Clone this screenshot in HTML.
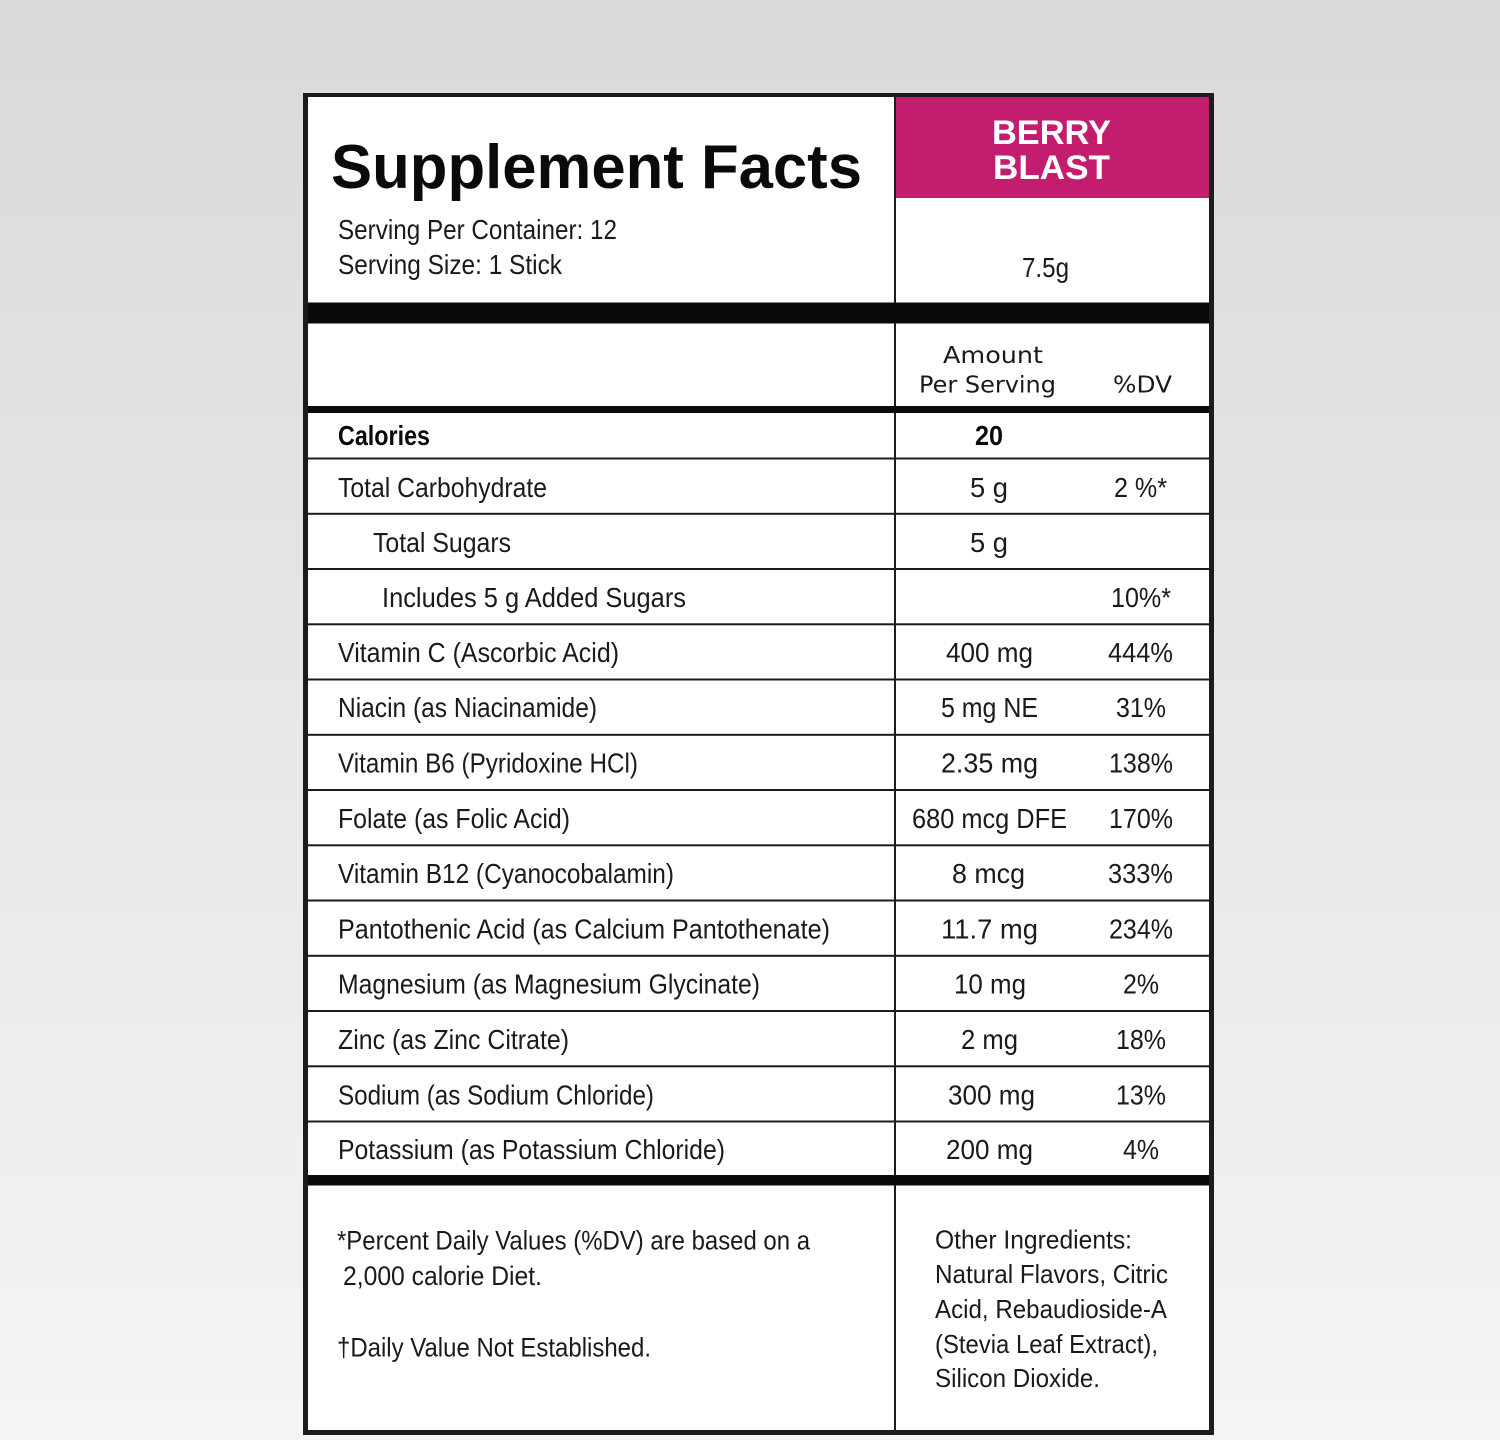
<!DOCTYPE html>
<html>
<head>
<meta charset="utf-8">
<style>
  html,body{margin:0;padding:0;}
  body{width:1500px;height:1440px;overflow:hidden;background:linear-gradient(to bottom,#d9d9db 0%,#e6e6e8 45%,#f4f4f4 100%);}
  svg{display:block;}
  .t{font-family:"Liberation Sans Narrow","Liberation Sans",sans-serif;fill:#1a1a1a;}
  .h{font-family:"DejaVu Sans","Liberation Sans",sans-serif;fill:#1a1a1a;}
  .b{font-family:"Liberation Sans",sans-serif;font-weight:bold;}
</style>
</head>
<body>
<svg width="1500" height="1440" viewBox="0 0 1500 1440" xmlns="http://www.w3.org/2000/svg">
  <!-- white panel -->
  <rect x="303" y="93" width="911" height="1342" fill="#ffffff"/>
  <!-- magenta header -->
  <rect x="896" y="97" width="313" height="101" fill="#c21d6e"/>
  <!-- outer border -->
  <rect x="303" y="93" width="911" height="4" fill="#1c1c1c"/>
  <rect x="303" y="1430" width="911" height="5" fill="#1c1c1c"/>
  <rect x="303" y="93" width="5" height="1342" fill="#1c1c1c"/>
  <rect x="1209" y="93" width="5" height="1342" fill="#1c1c1c"/>
  <!-- column divider -->
  <rect x="894" y="97" width="2" height="1333" fill="#1c1c1c"/>
  <!-- thick bands -->
  <rect x="308" y="302.5" width="901" height="21" fill="#0a0a0a"/>
  <rect x="308" y="406" width="901" height="7" fill="#0a0a0a"/>
  <rect x="308" y="1175" width="901" height="10.5" fill="#0a0a0a"/>
  <!-- row lines -->
  <g fill="#1c1c1c">
    <rect x="308" y="457.5" width="901" height="2"/>
    <rect x="308" y="512.8" width="901" height="2"/>
    <rect x="308" y="568" width="901" height="2"/>
    <rect x="308" y="623.3" width="901" height="2"/>
    <rect x="308" y="678.5" width="901" height="2"/>
    <rect x="308" y="733.8" width="901" height="2"/>
    <rect x="308" y="789" width="901" height="2"/>
    <rect x="308" y="844.3" width="901" height="2"/>
    <rect x="308" y="899.5" width="901" height="2"/>
    <rect x="308" y="954.8" width="901" height="2"/>
    <rect x="308" y="1010" width="901" height="2"/>
    <rect x="308" y="1065.3" width="901" height="2"/>
    <rect x="308" y="1120.5" width="901" height="2"/>
  </g>

  <!-- title area -->
  <text class="b" x="331" y="188" font-size="62" fill="#0a0a0a" textLength="531" lengthAdjust="spacingAndGlyphs">Supplement Facts</text>
  <text class="t" x="338" y="239" font-size="28" textLength="279" lengthAdjust="spacingAndGlyphs">Serving Per Container: 12</text>
  <text class="t" x="338" y="274" font-size="28" textLength="224" lengthAdjust="spacingAndGlyphs">Serving Size: 1 Stick</text>

  <text class="b" x="992" y="144" font-size="34" fill="#ffffff" textLength="119" lengthAdjust="spacingAndGlyphs">BERRY</text>
  <text class="b" x="993" y="179" font-size="34" fill="#ffffff" textLength="117" lengthAdjust="spacingAndGlyphs">BLAST</text>
  <text class="t" x="1022" y="277" font-size="28" textLength="47" lengthAdjust="spacingAndGlyphs">7.5g</text>

  <!-- column header -->
  <text class="h" x="943" y="363" font-size="23" textLength="100" lengthAdjust="spacingAndGlyphs">Amount</text>
  <text class="h" x="919" y="392.5" font-size="23" textLength="137" lengthAdjust="spacingAndGlyphs">Per Serving</text>
  <text class="h" x="1113" y="392.5" font-size="23" textLength="59" lengthAdjust="spacingAndGlyphs">%DV</text>

  <!-- rows: labels -->
  <g class="t" font-size="28">
    <text x="338" y="445" font-weight="bold" fill="#0a0a0a" textLength="92" lengthAdjust="spacingAndGlyphs">Calories</text>
    <text x="338" y="497" textLength="209" lengthAdjust="spacingAndGlyphs">Total Carbohydrate</text>
    <text x="373" y="552" textLength="138" lengthAdjust="spacingAndGlyphs">Total Sugars</text>
    <text x="382" y="607" textLength="304" lengthAdjust="spacingAndGlyphs">Includes 5 g Added Sugars</text>
    <text x="338" y="662" textLength="281" lengthAdjust="spacingAndGlyphs">Vitamin C (Ascorbic Acid)</text>
    <text x="338" y="717" textLength="259" lengthAdjust="spacingAndGlyphs">Niacin (as Niacinamide)</text>
    <text x="338" y="772.5" textLength="300" lengthAdjust="spacingAndGlyphs">Vitamin B6 (Pyridoxine HCl)</text>
    <text x="338" y="828" textLength="232" lengthAdjust="spacingAndGlyphs">Folate (as Folic Acid)</text>
    <text x="338" y="883" textLength="336" lengthAdjust="spacingAndGlyphs">Vitamin B12 (Cyanocobalamin)</text>
    <text x="338" y="938.5" textLength="492" lengthAdjust="spacingAndGlyphs">Pantothenic Acid (as Calcium Pantothenate)</text>
    <text x="338" y="993.5" textLength="422" lengthAdjust="spacingAndGlyphs">Magnesium (as Magnesium Glycinate)</text>
    <text x="338" y="1049" textLength="231" lengthAdjust="spacingAndGlyphs">Zinc (as Zinc Citrate)</text>
    <text x="338" y="1104.5" textLength="316" lengthAdjust="spacingAndGlyphs">Sodium (as Sodium Chloride)</text>
    <text x="338" y="1159" textLength="387" lengthAdjust="spacingAndGlyphs">Potassium (as Potassium Chloride)</text>
  </g>

  <!-- rows: amounts -->
  <g class="t" font-size="28">
    <text x="975" y="445" font-weight="bold" fill="#0a0a0a" textLength="28" lengthAdjust="spacingAndGlyphs">20</text>
    <text x="970" y="497" textLength="38" lengthAdjust="spacingAndGlyphs">5 g</text>
    <text x="970" y="552" textLength="38" lengthAdjust="spacingAndGlyphs">5 g</text>
    <text x="946" y="662" textLength="87" lengthAdjust="spacingAndGlyphs">400 mg</text>
    <text x="941" y="717" textLength="97" lengthAdjust="spacingAndGlyphs">5 mg NE</text>
    <text x="941" y="772.5" textLength="97" lengthAdjust="spacingAndGlyphs">2.35 mg</text>
    <text x="912" y="828" textLength="155" lengthAdjust="spacingAndGlyphs">680 mcg DFE</text>
    <text x="952" y="883" textLength="73" lengthAdjust="spacingAndGlyphs">8 mcg</text>
    <text x="941" y="938.5" textLength="97" lengthAdjust="spacingAndGlyphs">11.7 mg</text>
    <text x="954" y="993.5" textLength="72" lengthAdjust="spacingAndGlyphs">10 mg</text>
    <text x="961" y="1049" textLength="57" lengthAdjust="spacingAndGlyphs">2 mg</text>
    <text x="948" y="1104.5" textLength="87" lengthAdjust="spacingAndGlyphs">300 mg</text>
    <text x="946" y="1159" textLength="87" lengthAdjust="spacingAndGlyphs">200 mg</text>
  </g>

  <!-- rows: %DV -->
  <g class="t" font-size="28">
    <text x="1114" y="497" textLength="53" lengthAdjust="spacingAndGlyphs">2 %*</text>
    <text x="1111" y="607" textLength="60" lengthAdjust="spacingAndGlyphs">10%*</text>
    <text x="1108" y="662" textLength="65" lengthAdjust="spacingAndGlyphs">444%</text>
    <text x="1116" y="717" textLength="50" lengthAdjust="spacingAndGlyphs">31%</text>
    <text x="1109" y="772.5" textLength="64" lengthAdjust="spacingAndGlyphs">138%</text>
    <text x="1109" y="828" textLength="64" lengthAdjust="spacingAndGlyphs">170%</text>
    <text x="1108" y="883" textLength="65" lengthAdjust="spacingAndGlyphs">333%</text>
    <text x="1109" y="938.5" textLength="64" lengthAdjust="spacingAndGlyphs">234%</text>
    <text x="1123" y="993.5" textLength="36" lengthAdjust="spacingAndGlyphs">2%</text>
    <text x="1116" y="1049" textLength="50" lengthAdjust="spacingAndGlyphs">18%</text>
    <text x="1116" y="1104.5" textLength="50" lengthAdjust="spacingAndGlyphs">13%</text>
    <text x="1123" y="1159" textLength="36" lengthAdjust="spacingAndGlyphs">4%</text>
  </g>

  <!-- footnotes -->
  <g class="t" font-size="27">
    <text x="337" y="1249.5" textLength="473" lengthAdjust="spacingAndGlyphs">*Percent Daily Values (%DV) are based on a</text>
    <text x="343" y="1285" textLength="199" lengthAdjust="spacingAndGlyphs">2,000 calorie Diet.</text>
    <text x="337" y="1356.5" textLength="314" lengthAdjust="spacingAndGlyphs">†Daily Value Not Established.</text>
  </g>
  <g class="t" font-size="26">
    <text x="935" y="1248.5" textLength="197" lengthAdjust="spacingAndGlyphs">Other Ingredients:</text>
    <text x="935" y="1283" textLength="233" lengthAdjust="spacingAndGlyphs">Natural Flavors, Citric</text>
    <text x="935" y="1318" textLength="232" lengthAdjust="spacingAndGlyphs">Acid, Rebaudioside-A</text>
    <text x="935" y="1353" textLength="223" lengthAdjust="spacingAndGlyphs">(Stevia Leaf Extract),</text>
    <text x="935" y="1387" textLength="165" lengthAdjust="spacingAndGlyphs">Silicon Dioxide.</text>
  </g>
</svg>
</body>
</html>
